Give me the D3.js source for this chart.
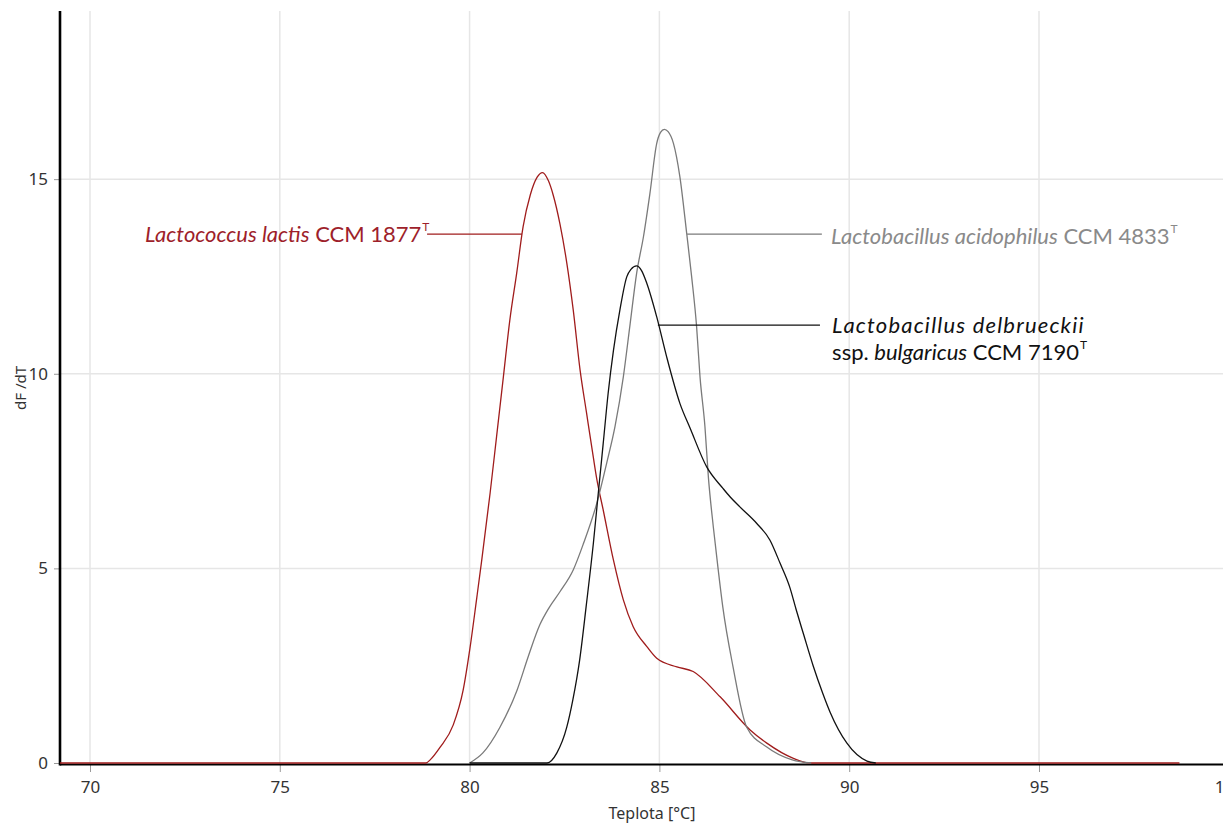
<!DOCTYPE html>
<html>
<head>
<meta charset="utf-8">
<script src="https://cdn.jsdelivr.net/npm/d3@7/dist/d3.min.js"></script>
<style>
  body { margin: 0; background: #fff; }
  svg { display: block; }
  .axisLabel text { font-family: "Noto Sans", sans-serif; font-size: 17px; fill: #333; }
  .axisLabel line { stroke: #999; }
  .subttl { font-family: "Noto Sans", sans-serif; fill: #333; }
  .curveLabel { font-family: Lato, "Open Sans", sans-serif; font-size: 22px; }
</style>
</head>
<body>
<div id="chartHolder"></div>
<script>
// tick values
const xTicks = [70, 75, 80, 85, 90, 95, 100];
const yTicks = [0, 5, 10, 15];

// melting curves [temperature, dF/dT]
const lactis = [
  [69.21, 0], [78.85, 0], [78.96, 0.08], [79.22, 0.4], [79.57, 0.98], [79.83, 1.87],
  [80.01, 2.95], [80.19, 4.25], [80.32, 5.21], [80.54, 6.93], [80.71, 8.38], [80.89, 9.92],
  [81.06, 11.38], [81.24, 12.58], [81.41, 13.78], [81.6, 14.6], [81.78, 15.05], [81.92, 15.17],
  [82.08, 14.95], [82.2, 14.6], [82.38, 13.85], [82.56, 12.85], [82.73, 11.64], [82.91, 10.1],
  [83.08, 9.0], [83.26, 7.85], [83.35, 7.3], [83.52, 6.5], [83.79, 5.21], [84.05, 4.19],
  [84.31, 3.5], [84.67, 2.99], [84.93, 2.69], [85.46, 2.47], [85.89, 2.35], [86.6, 1.7],
  [87.39, 0.85], [87.83, 0.51], [88.53, 0.12], [88.97, 0], [98.7, 0]
];
const acidophilus = [
  [80.0, 0], [80.35, 0.26], [80.8, 0.92], [81.25, 1.87], [81.55, 2.75], [81.85, 3.55],
  [82.1, 4.0], [82.38, 4.4], [82.73, 4.96], [83.0, 5.64], [83.35, 6.67], [83.61, 7.7], [83.83, 8.64],
  [84.05, 9.92], [84.23, 11.29], [84.4, 12.58], [84.58, 13.52], [84.75, 14.63], [84.93, 15.92],
  [85.03, 16.2], [85.13, 16.28], [85.23, 16.22], [85.37, 15.92], [85.54, 15.06], [85.72, 13.6],
  [85.85, 12.49], [85.98, 11.21], [86.07, 9.92], [86.2, 8.64], [86.29, 7.35], [86.42, 6.07],
  [86.55, 4.96], [86.67, 4.01], [86.94, 2.47], [87.3, 0.92], [87.83, 0.41], [88.5, 0.08], [89.0, 0]
];
const delbrueckii = [
  [80.0, 0], [82.04, 0], [82.3, 0.26], [82.56, 0.92], [82.72, 1.62], [82.9, 2.65],
  [83.08, 4.1], [83.26, 5.64], [83.39, 6.93], [83.52, 8.21], [83.65, 9.5], [83.79, 10.6],
  [83.96, 11.64], [84.14, 12.49], [84.25, 12.68], [84.4, 12.77], [84.53, 12.65], [84.67, 12.32],
  [84.93, 11.46], [85.19, 10.44], [85.54, 9.24], [85.81, 8.6], [86.25, 7.6], [86.68, 7.05],
  [86.86, 6.84], [87.12, 6.58], [87.56, 6.16], [87.91, 5.73], [88.18, 5.13], [88.44, 4.5],
  [88.6, 3.95], [88.8, 3.3], [89.05, 2.5], [89.3, 1.8], [89.5, 1.3], [89.94, 0.51],
  [90.47, 0.05], [90.7, 0]
];

const w = 1223;
const h = 823;
const padLeft = 60;
const padTop = 11;
const padBottom = 763;

const xScale = d3.scaleLinear()
  .domain([69.21, 100])
  .range([padLeft, 1228.8]);
const yScale = d3.scaleLinear()
  .domain([0, 19.32])
  .range([padBottom, padTop]);

const svg = d3.select("#chartHolder").append("svg")
  .attr("width", w)
  .attr("height", h);

// grid
svg.append("g").selectAll("line")
  .data(xTicks)
  .enter().append("line")
  .attr("x1", (d) => xScale(d)).attr("x2", (d) => xScale(d))
  .attr("y1", padTop).attr("y2", padBottom)
  .attr("stroke", "#e6e6e6").attr("stroke-width", 1.5);
svg.append("g").selectAll("line")
  .data(yTicks.filter((d) => d > 0))
  .enter().append("line")
  .attr("x1", padLeft).attr("x2", w)
  .attr("y1", (d) => yScale(d)).attr("y2", (d) => yScale(d))
  .attr("stroke", "#e6e6e6").attr("stroke-width", 1.5);

// axes
const xAxis = d3.axisBottom(xScale).tickValues(xTicks).tickSize(7).tickPadding(9);
const yAxis = d3.axisLeft(yScale).tickValues(yTicks).tickSize(6).tickPadding(6);

const xAxisCall = svg.append("g")
  .attr("class", "axisLabel")
  .attr("transform", "translate(0," + (padBottom + 2) + ")")
  .call(xAxis);
xAxisCall.select(".domain").remove();

const yAxisCall = svg.append("g")
  .attr("class", "axisLabel")
  .attr("transform", "translate(" + padLeft + ",0)")
  .call(yAxis);
yAxisCall.select(".domain").remove();

svg.append("line")
  .attr("x1", padLeft).attr("x2", w)
  .attr("y1", padBottom + 1.5).attr("y2", padBottom + 1.5)
  .attr("stroke", "#000").attr("stroke-width", 2);
svg.append("line")
  .attr("x1", padLeft).attr("x2", padLeft)
  .attr("y1", padTop).attr("y2", padBottom + 2.5)
  .attr("stroke", "#000").attr("stroke-width", 2.6);

// curves
const line = d3.line()
  .x((d) => xScale(d[0]))
  .y((d) => yScale(d[1]))
  .curve(d3.curveMonotoneX);

const series = [
  { data: lactis, color: "#a01c1c" },
  { data: acidophilus, color: "#7a7a7a" },
  { data: delbrueckii, color: "#111" }
];
svg.selectAll(".curve")
  .data(series)
  .enter().append("path")
  .attr("class", "curve")
  .attr("d", (d) => line(d.data))
  .attr("fill", "none")
  .attr("stroke", (d) => d.color)
  .attr("stroke-width", 1.3);

// leader lines (data units)
const leaders = [
  { t1: 78.88, t2: 81.38, v: 13.59, color: "#a01c1c" },
  { t1: 85.73, t2: 89.28, v: 13.59, color: "#7a7a7a" },
  { t1: 84.96, t2: 89.23, v: 11.25, color: "#111" }
];
svg.selectAll(".leader")
  .data(leaders)
  .enter().append("line")
  .attr("class", "leader")
  .attr("x1", (d) => xScale(d.t1)).attr("x2", (d) => xScale(d.t2))
  .attr("y1", (d) => yScale(d.v)).attr("y2", (d) => yScale(d.v))
  .attr("stroke", (d) => d.color)
  .attr("stroke-width", 1.3);

// labels
function addLabel(t, v, color, parts, spacing) {
  const txt = svg.append("text")
    .attr("class", "curveLabel")
    .attr("x", xScale(t))
    .attr("y", yScale(v))
    .attr("fill", color);
  if (spacing) txt.attr("letter-spacing", spacing);
  parts.forEach((p) => {
    const s = txt.append("tspan").text(p.text);
    if (p.italic) s.attr("font-style", "italic");
    if (p.sup) s.attr("font-size", "12px").attr("dy", -11).attr("dx", 1);
  });
}

addLabel(71.45, 13.38, "#9e1f2b", [
  { text: "Lactococcus lactis", italic: true },
  { text: " CCM 1877" },
  { text: "T", sup: true }
]);
addLabel(89.52, 13.33, "#8a8a8a", [
  { text: "Lactobacillus acidophilus", italic: true },
  { text: " CCM 4833" },
  { text: "T", sup: true }
]);
addLabel(89.55, 11.06, "#111", [
  { text: "Lactobacillus delbrueckii", italic: true }
], 1.2);
addLabel(89.55, 10.35, "#111", [
  { text: "ssp. " },
  { text: "bulgaricus", italic: true },
  { text: " CCM 7190" },
  { text: "T", sup: true }
]);

// axis titles
svg.append("text")
  .attr("class", "subttl")
  .attr("text-anchor", "middle")
  .attr("font-size", "16px")
  .attr("x", 652)
  .attr("y", 819)
  .text("Teplota [°C]");
svg.append("text")
  .attr("class", "subttl")
  .attr("text-anchor", "middle")
  .attr("font-size", "15px")
  .attr("transform", "translate(26,388)rotate(-90)")
  .text("dF /dT");
</script>
</body>
</html>
